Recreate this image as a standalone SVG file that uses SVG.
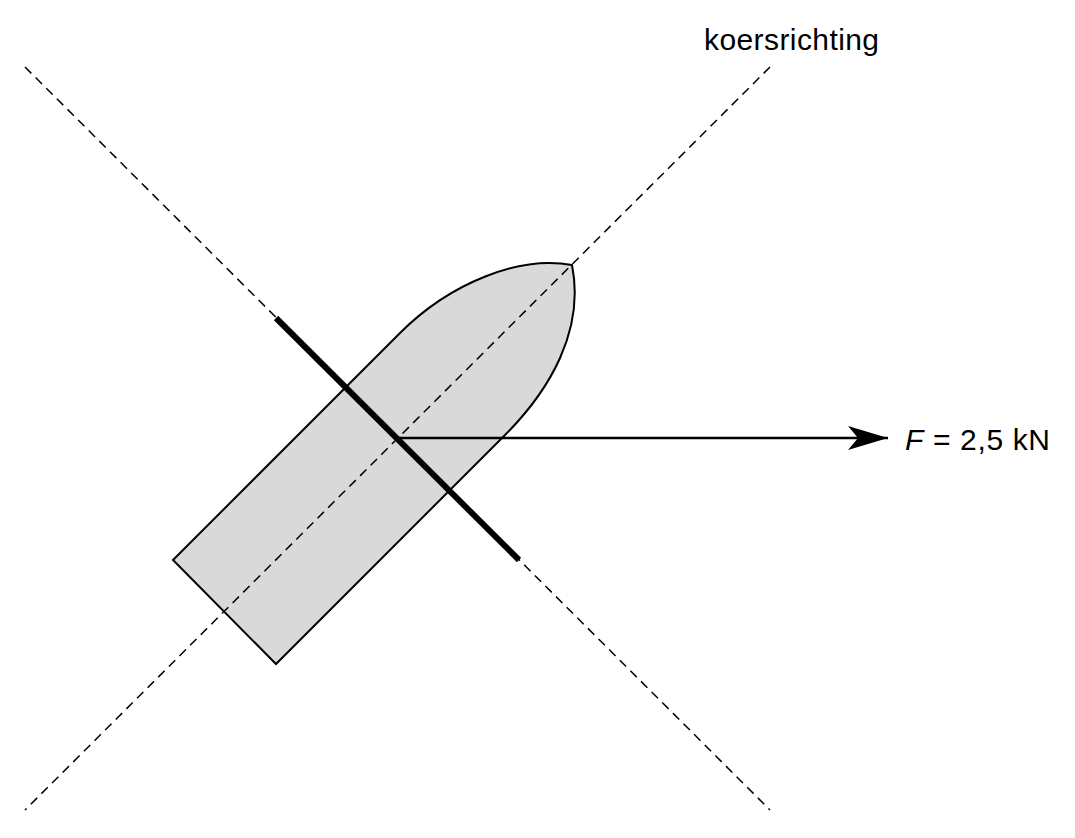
<svg xmlns="http://www.w3.org/2000/svg" width="1075" height="838" viewBox="0 0 1075 838">
<style>
.d{stroke:#000;stroke-width:1.5;stroke-dasharray:9,6;fill:none}
.t{font-family:"Liberation Sans",Arial,sans-serif;font-size:30px;fill:#000}
</style>
<defs><marker id="ah" markerWidth="40" markerHeight="24" refX="40" refY="12" orientation="auto" markerUnits="userSpaceOnUse"><path d="M0,0 L40,12 L0,24 L10,12 Z" fill="#000"/></marker></defs>
<rect width="1075" height="838" fill="#fff"/>
<g id="boat"><path d="M173,560 L400,333 C450,283 520,255 572,265 C585,330 550,390 505,435 L276,664 Z" fill="#d9d9d9" stroke="#000" stroke-width="2"/></g>
<g id="connectors">
<line class="d" x1="25" y1="67" x2="770" y2="810"/>
<line class="d" x1="770" y1="67" x2="25" y2="810"/>
<line x1="276" y1="318" x2="519" y2="560" stroke="#000" stroke-width="6"/>
<line x1="397" y1="438" x2="888" y2="438" stroke="#000" stroke-width="2.5" marker-end="url(#ah)"/>
</g>
<g id="labels">
<text class="t" x="704" y="50" textLength="175">koersrichting</text>
<text class="t" x="905" y="450" textLength="145"><tspan font-style="italic">F</tspan> = 2,5 kN</text>
</g>
</svg>
